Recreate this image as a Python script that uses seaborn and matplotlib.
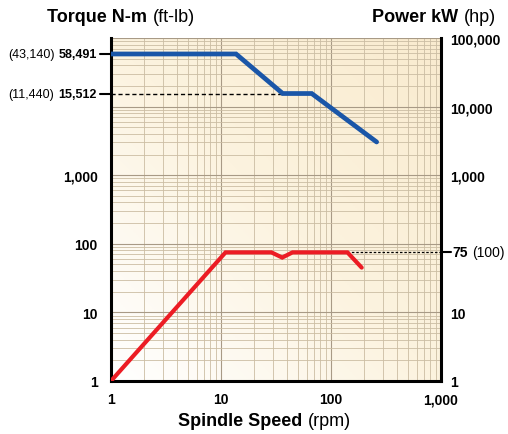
import numpy as np
import pandas as pd
import matplotlib
matplotlib.use("Agg")
import matplotlib.pyplot as plt
import matplotlib.ticker as mticker
import matplotlib.transforms as mtransforms
from matplotlib.colors import LinearSegmentedColormap
import seaborn as sns

# torque curve (N-m) vs spindle speed (rpm)
torque_speed = [1, 13.7, 36.4, 66.8, 260]
torque_nm = [58491, 58491, 15512, 15512, 3050]

# power curve (kW) vs spindle speed (rpm)
power_speed = [1, 11, 28.7, 36, 44.7, 141, 190]
power_kw = [1, 75, 75, 63, 75, 75, 45]

x_ticks = [1, 10, 100, 1000]
x_labels = ["1", "10", "100", "1,000"]
left_ticks = [1, 10, 100, 1000, 10000, 100000]
left_labels = ["1", "10", "100", "1,000", "", ""]
right_ticks = [1, 10, 1000, 10000, 100000]
right_labels = ["1", "10", "1,000", "10,000", "100,000"]

# marked values: (metric, imperial)
torque_marks = [(58491, "(43,140)", "58,491"), (15512, "(11,440)", "15,512")]
power_mark = (75, "75", "(100)")

sns.set_style("white")
plt.rcParams["font.family"] = ["Liberation Sans", "DejaVu Sans"]
plt.rcParams["text.color"] = "black"
plt.rcParams["xtick.color"] = "black"
plt.rcParams["ytick.color"] = "black"

fig = plt.figure(figsize=(5.08, 4.35), dpi=100)
ax = fig.add_axes([111 / 508, 53 / 435, 330 / 508, 343 / 435])

# cream gradient background
cmap = LinearSegmentedColormap.from_list("cream", ["#ffffff", "#fcf3df", "#f9ebcf"])
gx, gy = np.meshgrid(np.linspace(0, 1, 200), np.linspace(0, 1, 200))
ax.imshow((gx * 0.5 + gy * 0.5), cmap=cmap, extent=[0, 1, 0, 1],
          transform=ax.transAxes, aspect="auto", origin="lower", zorder=0)
ax.set_facecolor("none")

ax.set_xscale("log")
ax.set_yscale("log")
ax.set_xlim(1, 1000)
ax.set_ylim(1, 100000)
ax.set_autoscale_on(False)

ax.xaxis.set_minor_locator(mticker.LogLocator(base=10, subs=np.arange(2, 10), numticks=20))
ax.yaxis.set_minor_locator(mticker.LogLocator(base=10, subs=np.arange(2, 10), numticks=20))
ax.grid(which="major", color="#a89a86", lw=0.8, zorder=0.5)
ax.grid(which="minor", color="#cbbda3", lw=0.6, zorder=0.5)
ax.set_axisbelow(True)

df_t = pd.DataFrame({"speed": torque_speed, "torque": torque_nm})
df_p = pd.DataFrame({"speed": power_speed, "power": power_kw})
sns.lineplot(data=df_t, x="speed", y="torque", ax=ax, color="#1a56a8",
             lw=3.4, zorder=3, solid_joinstyle="miter")
sns.lineplot(data=df_p, x="speed", y="power", ax=ax, color="#ec1c24",
             lw=3.0, zorder=3, solid_joinstyle="miter")

# reference lines
ax.plot([1, torque_speed[2]], [torque_nm[2]] * 2, color="black", lw=1.0,
        dashes=(3, 2), zorder=2)
ax.plot([power_speed[5], 1000], [power_kw[5]] * 2, color="black", lw=0.9,
        dashes=(2, 1.5), zorder=2)

ax.set_xticks(x_ticks)
ax.set_xticklabels(x_labels, fontsize=10, fontweight="bold")
ax.set_yticks(left_ticks)
ax.set_yticklabels(left_labels, fontsize=10, fontweight="bold")
ax.tick_params(axis="x", which="both", length=0, pad=8)
ax.tick_params(axis="y", which="both", length=0, pad=9.5)
ax.set_xlabel("")
ax.set_ylabel("")

for side in ["left", "right", "bottom"]:
    ax.spines[side].set_visible(True)
    ax.spines[side].set_linewidth(2.2)
    ax.spines[side].set_color("black")
ax.spines["top"].set_visible(False)

ax2 = ax.twinx()
ax2.set_yscale("log")
ax2.set_ylim(1, 100000)
ax2.set_yticks(right_ticks)
ax2.set_yticklabels(right_labels, fontsize=10, fontweight="bold")
ax2.yaxis.set_minor_locator(mticker.NullLocator())
ax2.tick_params(axis="y", length=0, pad=6.5)
for s in ax2.spines.values():
    s.set_visible(False)

# marked torque values on the left
blend = mtransforms.blended_transform_factory(ax.transAxes, ax.transData)
for val, imp, met in torque_marks:
    ax.plot([-11 / 330, 0], [val, val], color="black", lw=1.5,
            transform=blend, clip_on=False)
    t = ax.text(-14 / 330, val, met, transform=blend, ha="right", va="center",
                fontsize=9, fontweight="bold")
    ax.annotate(imp, xy=(0, 0), xycoords=t, xytext=(-3, 0),
                textcoords="offset points", ha="right", va="bottom", fontsize=9)

# marked power value on the right
pv, pmet, pimp = power_mark
ax.plot([1, 1 + 10 / 330], [pv, pv], color="black", lw=1.5,
        transform=blend, clip_on=False)
t = ax.text(1 + 11 / 330, pv, pmet, transform=blend, ha="left", va="center",
            fontsize=10, fontweight="bold")
ax.annotate(pimp, xy=(1, 0), xycoords=t, xytext=(3, 0),
            textcoords="offset points", ha="left", va="bottom", fontsize=10)

# titles
t = fig.text(47 / 508, 1 - 22 / 435, "Torque N-m", fontsize=13,
             fontweight="bold", va="baseline")
ax.annotate("(ft-lb)", xy=(1, 0), xycoords=t, xytext=(4, 0),
            textcoords="offset points", va="bottom", fontsize=13)
t = fig.text(372 / 508, 1 - 22 / 435, "Power kW", fontsize=13,
             fontweight="bold", va="baseline")
ax.annotate("(hp)", xy=(1, 0), xycoords=t, xytext=(4, 0),
            textcoords="offset points", va="bottom", fontsize=13)
t = fig.text(178 / 508, 1 - 426 / 435, "Spindle Speed", fontsize=13,
             fontweight="bold", va="baseline")
ax.annotate("(rpm)", xy=(1, 0), xycoords=t, xytext=(4, 0),
            textcoords="offset points", va="bottom", fontsize=13)

fig.savefig("out.png", dpi=100, facecolor="white")
